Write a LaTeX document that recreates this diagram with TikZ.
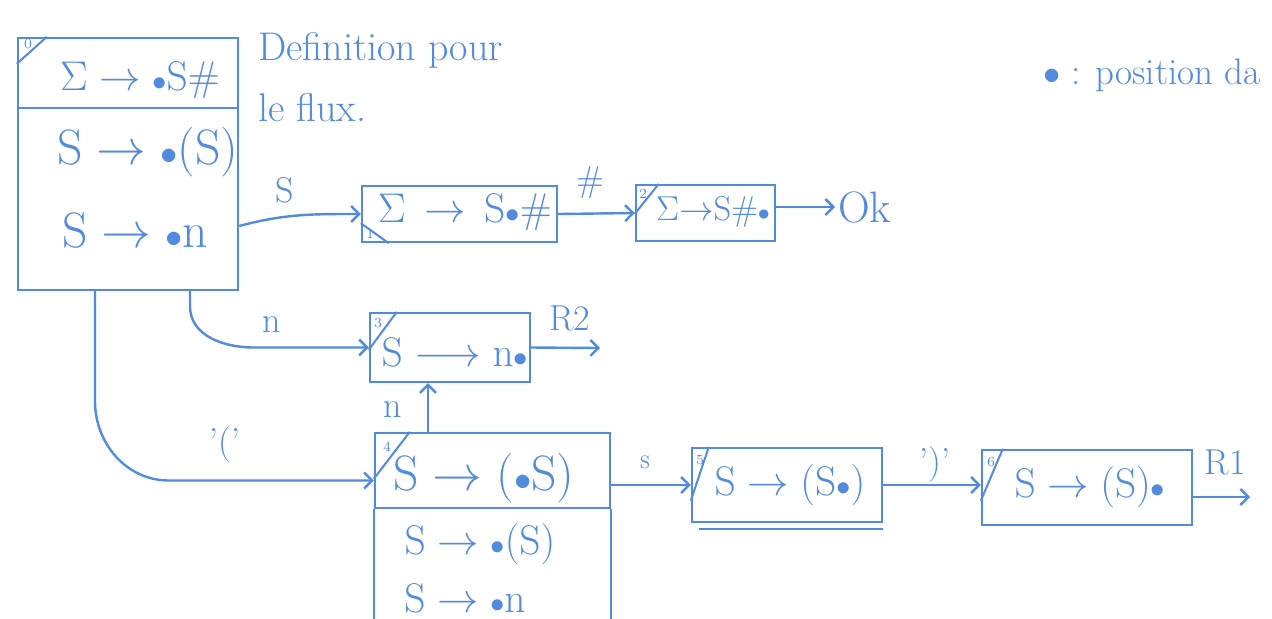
\documentclass[tikz,border=0pt]{standalone}
\usetikzlibrary{arrows.meta,calc}
\definecolor{ink}{RGB}{82,138,222}
\newcommand\dotpos{{\scriptstyle\bullet}}
\begin{document}
\begin{tikzpicture}[x=0.5pt,y=-0.5pt, line width=1.2pt, color=ink,
  box/.style={draw=ink, rectangle, inner sep=0pt},
  arr/.style={draw=ink, -{Straight Barb[length=4pt,width=8pt]}},
  big/.style={font=\fontsize{23}{26}\selectfont, inner sep=1pt},
  mid/.style={font=\fontsize{20}{23}\selectfont, inner sep=1pt},
  sml/.style={font=\fontsize{17}{20}\selectfont, inner sep=1pt},
  lbl/.style={font=\fontsize{18}{21}\selectfont, inner sep=1pt},
  num/.style={font=\fontsize{7}{8}\selectfont, inner sep=0pt},
  corner/.style={draw=ink, line width=1pt}]
\useasboundingbox (0,0) rectangle (1272,618);

% ---- boxes
\node[box, minimum width=110pt, minimum height=126pt] (b0) at (128,164) {};
\draw (b0.west |- 0,108) -- (b0.east |- 0,108);
\node[box, minimum width=97.5pt, minimum height=28pt] (b1) at (459.5,214) {};
\node[box, minimum width=69.5pt, minimum height=28pt] (b2) at (705.5,213) {};
\node[box, minimum width=80pt, minimum height=34.5pt] (b3) at (450,347.5) {};
\node[box, minimum width=117.5pt, minimum height=37.5pt] (b4) at (492.5,470.5) {};
\draw (b4.south west) -- ++(0,110);
\draw (b4.south east) -- ++(0,110);
\node[box, minimum width=95pt, minimum height=37pt] (b5) at (787,485) {};
\draw ([xshift=4pt,yshift=-3pt]b5.south west) -- ([yshift=-3pt]b5.south east);
\node[box, minimum width=105pt, minimum height=37.5pt] (b6) at (1087,487.5) {};

% ---- corner marks
\draw[corner] ([yshift=-13.5pt]b0.north west) -- ([xshift=15pt]b0.north west);
\node[num] (n0) at (28,44) {0};
\draw[corner] ([yshift=10pt]b1.south west) -- ([xshift=14pt]b1.south west);
\node[num] (n1) at (370,234) {1};
\draw[corner] ([yshift=-15pt]b2.north west) -- ([xshift=12pt]b2.north west);
\node[num] (n2) at (643,194) {2};
\draw[corner] ([yshift=-19pt]b3.north west) -- ([xshift=14pt]b3.north west);
\node[num] (n3) at (378,323) {3};
\draw[corner] ([yshift=-23.5pt]b4.north west) -- ([xshift=18pt]b4.north west);
\node[num] (n4) at (387,447) {4};
\draw[corner] ([yshift=-27pt]b5.north west) -- ([xshift=9pt]b5.north west);
\node[num] (n5) at (700,460) {5};
\draw[corner] ([yshift=-26pt]b6.north west) -- ([xshift=11pt]b6.north west);
\node[num] (n6) at (991,462) {6};

% ---- box contents
\node[mid] (t0a) at (140,80) {$\Sigma\rightarrow\dotpos\mathrm{S}\#$};
\node[big] (t0b) at (148,152) {$\mathrm{S}\rightarrow\dotpos(\mathrm{S})$};
\node[big] (t0c) at (135,230) {$\mathrm{S}\rightarrow\dotpos\mathrm{n}$};
\node[mid] (t1) at (465,212) {$\Sigma\,\rightarrow\,\mathrm{S}\dotpos\#$};
\node[sml] (t2) at (713,212) {$\Sigma{\rightarrow}\mathrm{S}\#\dotpos$};
\node[mid] (t3) at (455,352) {$\mathrm{S}\longrightarrow\mathrm{n}\dotpos$};
\node[big] (t4a) at (484,478) {$\mathrm{S}\rightarrow(\dotpos\mathrm{S})$};
\node[mid] (t4b) at (480,544) {$\mathrm{S}\rightarrow\dotpos(\mathrm{S})$};
\node[mid] (t4c) at (465,598) {$\mathrm{S}\rightarrow\dotpos\mathrm{n}$};
\node[mid] (t5) at (790,485) {$\mathrm{S}\rightarrow(\mathrm{S}\dotpos)$};
\node[mid] (t6) at (1090,487) {$\mathrm{S}\rightarrow(\mathrm{S})\dotpos$};

% ---- free texts
\node[lbl, font=\fontsize{20}{23}\selectfont, anchor=west] (d1) at (255,50) {Definition pour};
\node[lbl, font=\fontsize{20}{23}\selectfont, anchor=west] (d2) at (255,108) {le flux.};
\node[lbl, font=\fontsize{18.5}{21}\selectfont, anchor=west] (leg) at (1040,75) {$\bullet$ : position da};
\node[lbl, font=\fontsize{22}{25}\selectfont, anchor=west] (ok) at (835,207) {Ok};

% ---- connectors
\draw[arr] ([yshift=-31pt]b0.east) to[out=15,in=180] (b1.west);
\node[lbl] (lS) at (285,190) {S};
\draw[arr] (b1.east) -- (b2.west);
\node[lbl] (lh) at (590,183) {\#};
\draw[arr] ([yshift=3pt]b2.east) -- ([yshift=3pt]b2.east -| ok.west);
\draw[arr] ([xshift=31pt]b0.south) -- ++(0,15) to[out=-90,in=180] ($(b3.west)+(-115,0)$) -- (b3.west);
\node[lbl] (ln1) at (272,325) {n};
\coordinate (r2) at (600,348);
\draw[arr] (b3.east) -- (r2);
\node[lbl] (lR2) at (570,318) {R2};
\draw[arr] ([xshift=-32.25pt]b4.north) -- ([xshift=-11pt]b3.south);
\node[lbl] (ln2) at (393,410) {n};
\draw[arr] ([xshift=-16.5pt]b0.south) -- ++(0,110) to[out=-90,in=180] ($([yshift=-5pt]b4.west)+(-205,0)$) -- ([yshift=-5pt]b4.west);
\node[lbl] (lp) at (225,445) {'('};
\draw[arr] (b4.east |- b5.west) -- (b5.west);
\node[lbl] (ls2) at (645,462) {\small S};
\draw[arr] (b5.east) -- (b5.east -| b6.west);
\node[lbl] (lq) at (935,465) {')'};
\coordinate (r1) at (1250,497);
\draw[arr] (b6.east |- r1) -- (r1);
\node[lbl] (lR1) at (1225,462) {R1};
\end{tikzpicture}
\end{document}
